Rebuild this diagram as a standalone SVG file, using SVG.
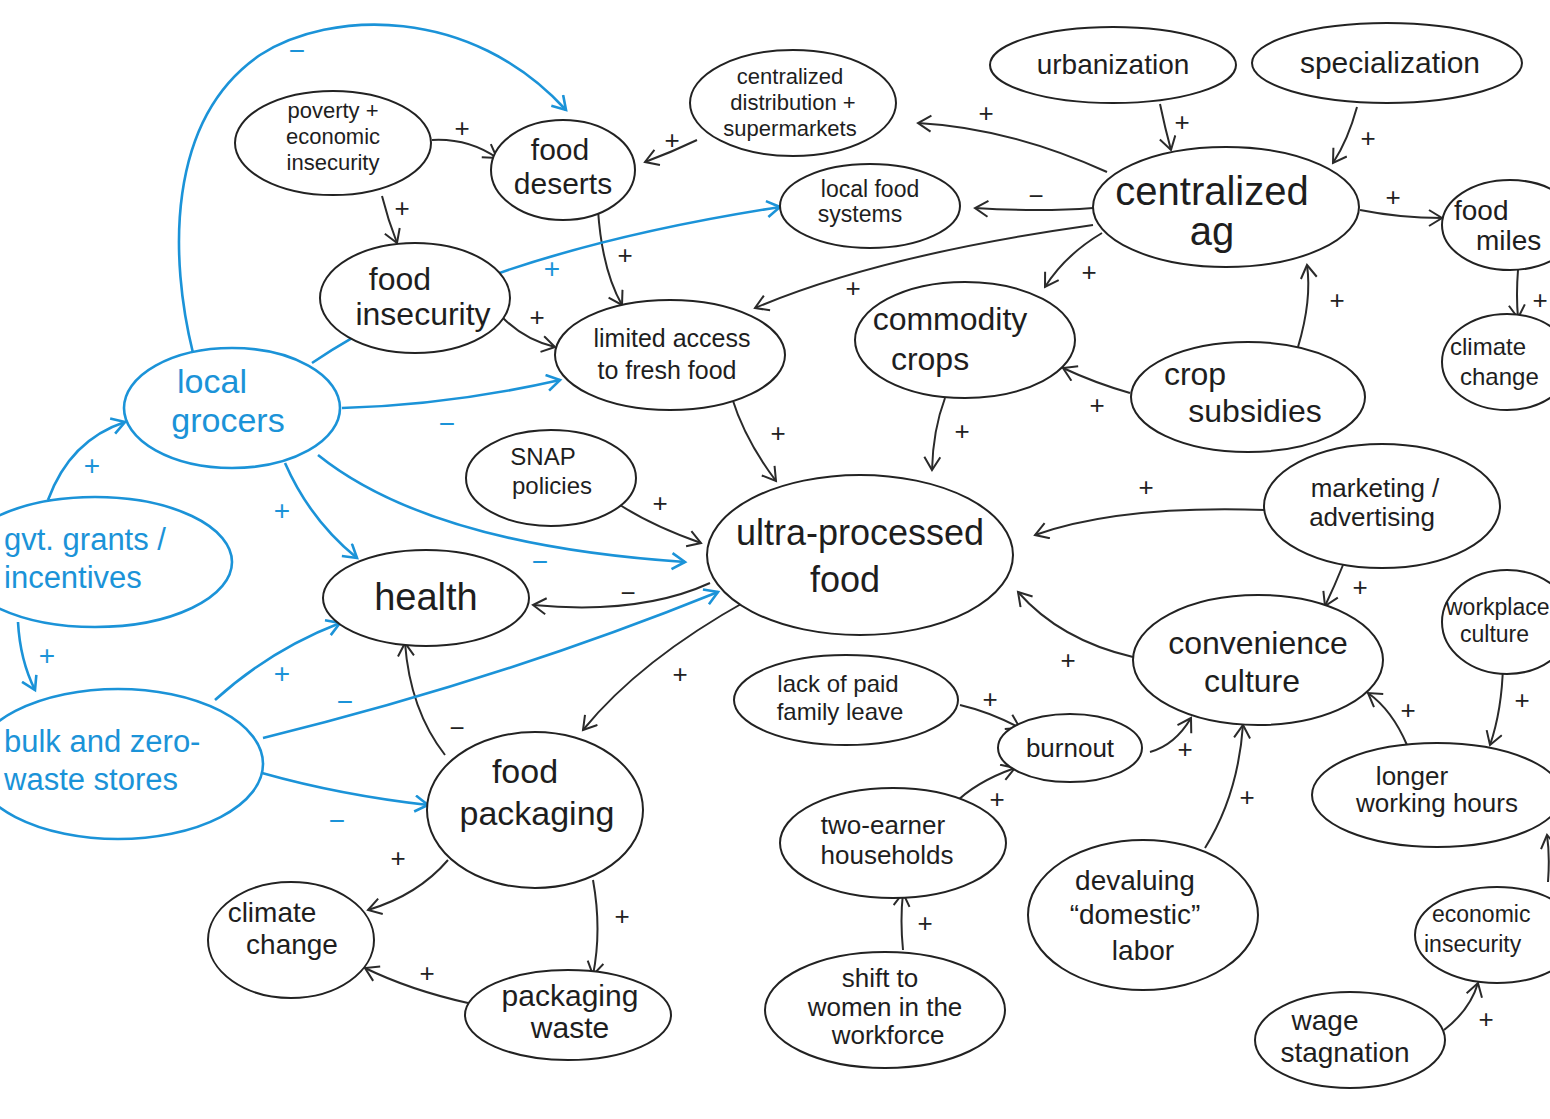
<svg xmlns="http://www.w3.org/2000/svg" width="1550" height="1119" viewBox="0 0 1550 1119">
<defs>
<style>
.n{fill:#fff;stroke:#222;stroke-width:2}
.nb{fill:#fff;stroke:#1b93d8;stroke-width:2.6}
.t{font-family:"Liberation Sans",Arial,sans-serif;fill:#1e1e1e;text-anchor:middle}
.tb{font-family:"Liberation Sans",Arial,sans-serif;fill:#1b93d8;text-anchor:middle}
.ts{text-anchor:start}
.c{fill:none;stroke:#2a2a2a;stroke-width:2;marker-end:url(#ak)}
.cb{fill:none;stroke:#1b93d8;stroke-width:2.6;marker-end:url(#ab)}
.s{font-family:"Liberation Sans",Arial,sans-serif;font-size:26px;fill:#222;text-anchor:middle}
.sb{font-family:"Liberation Sans",Arial,sans-serif;font-size:28px;fill:#1b93d8;text-anchor:middle}
</style>
<marker id="ak" markerUnits="userSpaceOnUse" markerWidth="24" markerHeight="24" refX="14" refY="9" orient="auto"><path d="M1,1 L14,9 L1,17" fill="none" stroke="#2a2a2a" stroke-width="2"/></marker>
<marker id="ab" markerUnits="userSpaceOnUse" markerWidth="24" markerHeight="24" refX="14" refY="9" orient="auto"><path d="M1,1 L14,9 L1,17" fill="none" stroke="#1b93d8" stroke-width="2.6"/></marker>
</defs>
<rect width="1550" height="1119" fill="#fff"/>
<g id="connectors">
<path class="c" d="M432,140 Q468,138 497,158"/>
<path class="c" d="M382,196 Q388,220 397,243"/>
<path class="c" d="M697,140 Q672,152 645,162"/>
<path class="c" d="M598,210 Q602,270 622,305"/>
<path class="c" d="M503,318 Q525,340 555,347"/>
<path class="c" d="M1107,172 Q1010,128 918,123"/>
<path class="c" d="M1093,208 Q1040,212 975,208"/>
<path class="c" d="M1093,225 Q880,255 755,308"/>
<path class="c" d="M1102,233 Q1065,255 1045,287"/>
<path class="c" d="M1360,210 Q1400,218 1442,218"/>
<path class="c" d="M1160,104 Q1165,128 1171,150"/>
<path class="c" d="M1357,107 Q1348,140 1333,163"/>
<path class="c" d="M1298,347 Q1312,300 1307,265"/>
<path class="c" d="M1130,393 Q1095,383 1063,368"/>
<path class="c" d="M1518,270 Q1516,295 1518,318"/>
<path class="c" d="M945,398 Q933,430 932,470"/>
<path class="c" d="M732,398 Q745,440 776,481"/>
<path class="c" d="M617,503 Q650,525 701,543"/>
<path class="c" d="M1265,510 Q1120,505 1035,535"/>
<path class="c" d="M1343,565 Q1335,585 1325,606"/>
<path class="c" d="M1133,657 Q1060,640 1018,592"/>
<path class="c" d="M710,583 Q640,615 533,605"/>
<path class="c" d="M748,600 Q640,660 583,730"/>
<path class="c" d="M445,755 Q410,710 405,643"/>
<path class="c" d="M448,860 Q418,895 368,910"/>
<path class="c" d="M593,880 Q602,930 593,975"/>
<path class="c" d="M468,1003 Q410,990 365,968"/>
<path class="c" d="M960,705 Q990,712 1020,728"/>
<path class="c" d="M953,805 Q975,782 1015,768"/>
<path class="c" d="M1150,752 Q1175,745 1191,718"/>
<path class="c" d="M1205,848 Q1238,795 1243,725"/>
<path class="c" d="M903,950 Q900,920 903,893"/>
<path class="c" d="M1503,665 Q1502,710 1490,745"/>
<path class="c" d="M1407,745 Q1392,710 1368,693"/>
<path class="c" d="M1548,882 Q1550,855 1547,835"/>
<path class="c" d="M1444,1030 Q1470,1010 1478,983"/>
<path class="cb" d="M193,353 C170,260 165,120 260,55 C330,10 470,5 566,110"/>
<path class="cb" d="M312,363 Q470,255 780,207"/>
<path class="cb" d="M342,408 Q450,405 560,380"/>
<path class="cb" d="M285,463 Q310,520 357,558"/>
<path class="cb" d="M318,455 Q430,545 685,562"/>
<path class="cb" d="M48,500 Q70,440 125,422"/>
<path class="cb" d="M18,622 Q20,660 35,690"/>
<path class="cb" d="M215,700 Q270,650 340,623"/>
<path class="cb" d="M263,738 Q500,680 718,592"/>
<path class="cb" d="M262,773 Q340,795 428,805"/>
<text class="s" x="462" y="137">+</text>
<text class="s" x="402" y="217">+</text>
<text class="s" x="672" y="149">+</text>
<text class="s" x="625" y="264">+</text>
<text class="s" x="537" y="326">+</text>
<text class="s" x="986" y="122">+</text>
<text class="s" x="1036" y="205">−</text>
<text class="s" x="853" y="297">+</text>
<text class="s" x="1089" y="281">+</text>
<text class="s" x="1393" y="206">+</text>
<text class="s" x="1182" y="131">+</text>
<text class="s" x="1368" y="147">+</text>
<text class="s" x="1337" y="309">+</text>
<text class="s" x="1097" y="414">+</text>
<text class="s" x="1540" y="309">+</text>
<text class="s" x="962" y="440">+</text>
<text class="s" x="778" y="442">+</text>
<text class="s" x="660" y="512">+</text>
<text class="s" x="1146" y="496">+</text>
<text class="s" x="1360" y="596">+</text>
<text class="s" x="1068" y="669">+</text>
<text class="s" x="628" y="602">−</text>
<text class="s" x="680" y="683">+</text>
<text class="s" x="457" y="737">−</text>
<text class="s" x="398" y="867">+</text>
<text class="s" x="622" y="925">+</text>
<text class="s" x="427" y="982">+</text>
<text class="s" x="990" y="708">+</text>
<text class="s" x="997" y="808">+</text>
<text class="s" x="1185" y="758">+</text>
<text class="s" x="1247" y="806">+</text>
<text class="s" x="925" y="932">+</text>
<text class="s" x="1522" y="709">+</text>
<text class="s" x="1408" y="719">+</text>
<text class="s" x="1486" y="1028">+</text>
<text class="sb" x="297" y="60">−</text>
<text class="sb" x="552" y="278">+</text>
<text class="sb" x="447" y="433">−</text>
<text class="sb" x="282" y="520">+</text>
<text class="sb" x="540" y="571">−</text>
<text class="sb" x="92" y="475">+</text>
<text class="sb" x="47" y="665">+</text>
<text class="sb" x="282" y="683">+</text>
<text class="sb" x="345" y="711">−</text>
<text class="sb" x="337" y="830">−</text>
</g>
<g id="n-poverty"><ellipse class="n" cx="333" cy="143" rx="98" ry="52"/><text class="t" font-size="22" x="333" y="118">poverty +</text><text class="t" font-size="22" x="333" y="144">economic</text><text class="t" font-size="22" x="333" y="170">insecurity</text></g>
<g id="n-food-deserts"><ellipse class="n" cx="563" cy="170" rx="72" ry="50"/><text class="t" font-size="30" x="560" y="160">food</text><text class="t" font-size="30" x="563" y="194">deserts</text></g>
<g id="n-cdist"><ellipse class="n" cx="793" cy="103" rx="103" ry="53"/><text class="t" font-size="22" x="790" y="84">centralized</text><text class="t" font-size="22" x="793" y="110">distribution +</text><text class="t" font-size="22" x="790" y="136">supermarkets</text></g>
<g id="n-urbanization"><ellipse class="n" cx="1113" cy="65" rx="123" ry="38"/><text class="t" font-size="28" x="1113" y="74">urbanization</text></g>
<g id="n-specialization"><ellipse class="n" cx="1387" cy="63" rx="135" ry="40"/><text class="t" font-size="30" x="1390" y="73">specialization</text></g>
<g id="n-centralized-ag"><ellipse class="n" cx="1226" cy="207" rx="133" ry="60"/><text class="t" font-size="40" x="1212" y="205">centralized</text><text class="t" font-size="40" x="1212" y="245">ag</text></g>
<g id="n-local-food"><ellipse class="n" cx="870" cy="206" rx="90" ry="42"/><text class="t" font-size="23" x="870" y="197">local food</text><text class="t" font-size="23" x="860" y="222">systems</text></g>
<g id="n-food-miles"><ellipse class="n" cx="1510" cy="225" rx="68" ry="45"/><text class="t ts" font-size="28" x="1454" y="220">food</text><text class="t ts" font-size="28" x="1476" y="250">miles</text></g>
<g id="n-climate-right"><ellipse class="n" cx="1507" cy="362" rx="65" ry="48"/><text class="t ts" font-size="24" x="1450" y="355">climate</text><text class="t ts" font-size="24" x="1460" y="385">change</text></g>
<g id="n-food-insecurity"><ellipse class="n" cx="415" cy="298" rx="95" ry="55"/><text class="t" font-size="32" x="400" y="290">food</text><text class="t" font-size="32" x="423" y="325">insecurity</text></g>
<g id="n-limited-access"><ellipse class="n" cx="670" cy="355" rx="115" ry="55"/><text class="t" font-size="25" x="672" y="347">limited access</text><text class="t" font-size="25" x="667" y="379">to fresh food</text></g>
<g id="n-commodity"><ellipse class="n" cx="965" cy="340" rx="110" ry="58"/><text class="t" font-size="32" x="950" y="330">commodity</text><text class="t" font-size="32" x="930" y="370">crops</text></g>
<g id="n-crop-subsidies"><ellipse class="n" cx="1248" cy="397" rx="117" ry="55"/><text class="t" font-size="32" x="1195" y="385">crop</text><text class="t" font-size="32" x="1255" y="422">subsidies</text></g>
<g id="n-snap"><ellipse class="n" cx="551" cy="478" rx="85" ry="48"/><text class="t" font-size="24" x="543" y="465">SNAP</text><text class="t" font-size="24" x="552" y="494">policies</text></g>
<g id="n-ultra"><ellipse class="n" cx="860" cy="555" rx="153" ry="80"/><text class="t" font-size="36" x="860" y="545">ultra-processed</text><text class="t" font-size="36" x="845" y="592">food</text></g>
<g id="n-marketing"><ellipse class="n" cx="1382" cy="506" rx="118" ry="62"/><text class="t" font-size="26" x="1375" y="497">marketing /</text><text class="t" font-size="26" x="1372" y="526">advertising</text></g>
<g id="n-health"><ellipse class="n" cx="426" cy="598" rx="103" ry="48"/><text class="t" font-size="38" x="426" y="610">health</text></g>
<g id="n-convenience"><ellipse class="n" cx="1258" cy="660" rx="125" ry="65"/><text class="t" font-size="32" x="1258" y="654">convenience</text><text class="t" font-size="32" x="1252" y="692">culture</text></g>
<g id="n-workplace"><ellipse class="n" cx="1507" cy="622" rx="65" ry="52"/><text class="t ts" font-size="23" x="1446" y="615">workplace</text><text class="t ts" font-size="23" x="1460" y="642">culture</text></g>
<g id="n-lack-leave"><ellipse class="n" cx="846" cy="700" rx="112" ry="45"/><text class="t" font-size="24" x="838" y="692">lack of paid</text><text class="t" font-size="24" x="840" y="720">family leave</text></g>
<g id="n-burnout"><ellipse class="n" cx="1070" cy="748" rx="72" ry="34"/><text class="t" font-size="26" x="1070" y="757">burnout</text></g>
<g id="n-food-packaging"><ellipse class="n" cx="535" cy="810" rx="108" ry="78"/><text class="t" font-size="34" x="525" y="783">food</text><text class="t" font-size="34" x="537" y="825">packaging</text></g>
<g id="n-longer-hours"><ellipse class="n" cx="1437" cy="795" rx="125" ry="52"/><text class="t" font-size="26" x="1412" y="785">longer</text><text class="t" font-size="26" x="1437" y="812">working hours</text></g>
<g id="n-two-earner"><ellipse class="n" cx="893" cy="843" rx="113" ry="55"/><text class="t" font-size="26" x="883" y="834">two-earner</text><text class="t" font-size="26" x="887" y="864">households</text></g>
<g id="n-devaluing"><ellipse class="n" cx="1143" cy="915" rx="115" ry="75"/><text class="t" font-size="28" x="1135" y="890">devaluing</text><text class="t" font-size="28" x="1135" y="924">“domestic”</text><text class="t" font-size="28" x="1143" y="960">labor</text></g>
<g id="n-econ-insecurity"><ellipse class="n" cx="1497" cy="935" rx="82" ry="48"/><text class="t ts" font-size="23" x="1432" y="922">economic</text><text class="t ts" font-size="23" x="1424" y="952">insecurity</text></g>
<g id="n-climate-left"><ellipse class="n" cx="291" cy="940" rx="83" ry="58"/><text class="t" font-size="28" x="272" y="922">climate</text><text class="t" font-size="28" x="292" y="954">change</text></g>
<g id="n-packaging-waste"><ellipse class="n" cx="568" cy="1015" rx="103" ry="45"/><text class="t" font-size="30" x="570" y="1006">packaging</text><text class="t" font-size="30" x="570" y="1038">waste</text></g>
<g id="n-shift-women"><ellipse class="n" cx="885" cy="1010" rx="120" ry="58"/><text class="t" font-size="26" x="880" y="987">shift to</text><text class="t" font-size="26" x="885" y="1016">women in the</text><text class="t" font-size="26" x="888" y="1044">workforce</text></g>
<g id="n-wage"><ellipse class="n" cx="1350" cy="1040" rx="95" ry="48"/><text class="t" font-size="28" x="1325" y="1030">wage</text><text class="t" font-size="28" x="1345" y="1062">stagnation</text></g>
<g id="n-local-grocers"><ellipse class="nb" cx="232" cy="408" rx="108" ry="60"/><text class="tb" font-size="34" x="212" y="393">local</text><text class="tb" font-size="34" x="228" y="432">grocers</text></g>
<g id="n-gvt-grants"><ellipse class="nb" cx="95" cy="562" rx="137" ry="65"/><text class="tb ts" font-size="31" x="4" y="550">gvt. grants /</text><text class="tb ts" font-size="31" x="4" y="588">incentives</text></g>
<g id="n-bulk"><ellipse class="nb" cx="118" cy="764" rx="145" ry="75"/><text class="tb ts" font-size="31" x="4" y="752">bulk and zero-</text><text class="tb ts" font-size="31" x="4" y="790">waste stores</text></g>
</svg>
